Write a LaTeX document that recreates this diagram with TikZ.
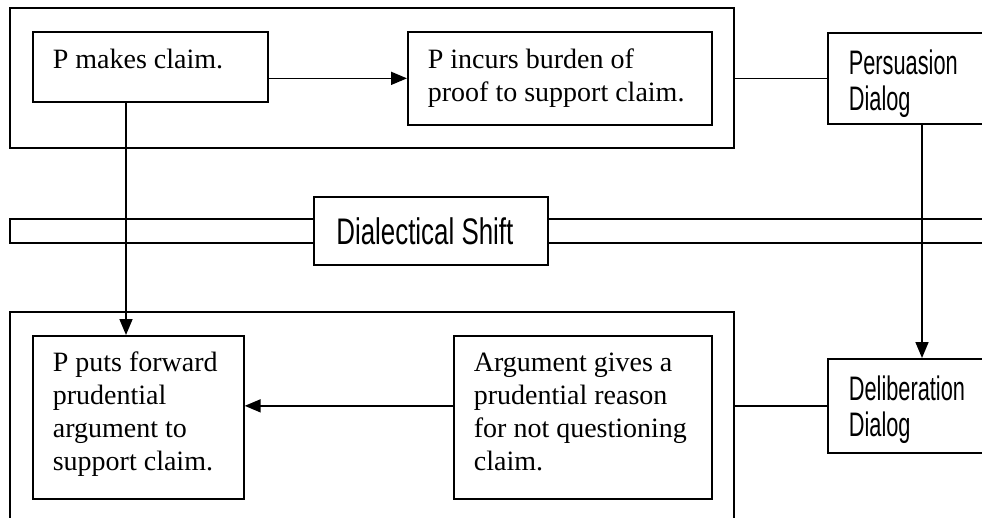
\documentclass[tikz,border=0pt]{standalone}
\usepackage{fontspec}
\setmainfont{Liberation Serif}
\newfontfamily\dialogfont[FakeStretch=0.64]{Liberation Sans}
\newfontfamily\cambiofont[FakeStretch=0.7]{Liberation Sans}
\usetikzlibrary{arrows.meta}

\begin{document}
\begin{tikzpicture}[x=1pt,y=-1pt,line width=1.7pt,
    caja/.style={draw, fill=white, inner sep=0pt, anchor=north west},
    texto/.style={anchor=north west, inner sep=0pt, align=left, font=\fontsize{28}{33}\selectfont},
    dialogo/.style={texto, font=\dialogfont\fontsize{34}{36}\selectfont},
    flecha/.style={-{Triangle[length=16pt,width=13pt]}}]

      \useasboundingbox (0,0) rectangle (982,517);

      % Marcos exteriores
      \node[caja, minimum width=724, minimum height=140] (marcoarriba) at (9,7) {};
      \node[caja, minimum width=724, minimum height=240] (marcoabajo) at (9,311) {};

      % Banda del cambio dialectico
      \node[caja, fill=none, minimum width=1000, minimum height=24] (banda) at (9,218) {};

      % Cajas de arriba
      \node[caja, minimum width=235, minimum height=70] (claim) at (32,31) {};
      \node[texto] (claimtxt) at ([shift={(20,17)}]claim.north west) {P makes claim.};
      \node[caja, minimum width=304, minimum height=93] (incurs) at (407,31) {};
      \node[texto] (incurstxt) at ([shift={(20,17)}]incurs.north west) {P incurs burden of\\proof to support claim.};
      \node[caja, minimum width=165, minimum height=91] (persuasion) at (827,32) {};
      \node[dialogo] (persuasiontxt) at ([shift={(21,17)}]persuasion.north west) {Persuasion\\Dialog};

      % Cajas de abajo
      \node[caja, minimum width=211, minimum height=163] (puts) at (32,335) {};
      \node[texto] (putstxt) at ([shift={(20,16)}]puts.north west) {P puts forward\\prudential\\argument to\\support claim.};
      \node[caja, minimum width=258, minimum height=163] (argument) at (453,335) {};
      \node[texto] (argumenttxt) at ([shift={(20,17)}]argument.north west) {Argument gives a\\prudential reason\\for not questioning\\claim.};
      \node[caja, minimum width=165, minimum height=94] (deliberation) at (827,358) {};
      \node[dialogo] (deliberationtxt) at ([shift={(21,17)}]deliberation.north west) {Deliberation\\Dialog};

      % Conectores
      \draw[flecha] (claim.east |- incurs.west) -- (incurs.west);
      \draw (marcoarriba.east |- persuasion.west) -- (persuasion.west);
      \draw[flecha] ([xshift=94pt]claim.south west) -- ([xshift=94pt]puts.north west);
      \draw[flecha] ([xshift=95pt]persuasion.south west) -- ([xshift=95pt]deliberation.north west);
      \draw (marcoabajo.east |- deliberation.west) -- (deliberation.west);
      \draw[flecha] (argument.west |- deliberation.west) -- (puts.east |- deliberation.west);

      % Caja del cambio
      \node[caja, minimum width=234, minimum height=68, inner xsep=0pt,
            font=\cambiofont\fontsize{37}{40}\selectfont] (cambio) at (313,196) {Dialectical Shift\hspace*{12pt}};

    \end{tikzpicture}
\end{document}
